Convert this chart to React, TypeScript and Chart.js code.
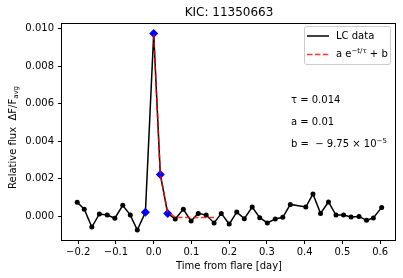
import React, { useEffect, useRef } from "react";
import { Chart, registerables } from "chart.js";

Chart.register(...registerables);

const lcTimes = [-0.2027, -0.184, -0.164, -0.144, -0.123, -0.103, -0.082, -0.062, -0.0435, -0.022, 0, 0.0175, 0.037, 0.057, 0.0785, 0.099, 0.118, 0.139, 0.16, 0.179, 0.2, 0.22, 0.24, 0.261, 0.281, 0.301, 0.322, 0.342, 0.362, 0.403, 0.422, 0.442, 0.463, 0.483, 0.503, 0.523, 0.544, 0.564, 0.582, 0.604];
const lcFlux = [0.00073, 0.00036, -0.00059, 0.00011, 0.00005, -0.00012, 0.00057, 0.00005, -0.00075, 0.0002, 0.00974, 0.00222, 0.00014, -0.00016, 0.00036, -0.00027, 0.00014, 0.00005, -0.00037, 0.00014, -0.00043, 0.00021, -0.00014, 0.00048, -0.00009, -0.00037, -0.00016, -0.00007, 0.00062, 0.00048, 0.00117, 0.00014, 0.00075, 0.00005, 0.00005, -0.00005, -0.00002, -0.00023, -0.0001, 0.00046];
const flareTimes = [-0.022, 0, 0.0175, 0.037];
const flareFlux = [0.0002, 0.00974, 0.00222, 0.00014];
const fitTimes = [0, 0.0175, 0.037, 0.057, 0.0785, 0.099, 0.118, 0.139, 0.16];
const fitFlux = [0.0097, 0.0022, 0.00022, -0.00006, -0.00008, -0.00008, -0.00008, -0.00008, -0.00008];
const xTicks = [-0.2, -0.1, 0, 0.1, 0.2, 0.3, 0.4, 0.5, 0.6];
const yTicks = [0, 0.002, 0.004, 0.006, 0.008, 0.01];
const titleText = "KIC: 11350663";
const xLabel = "Time from flare [day]";

const FONT = "'DejaVu Sans', sans-serif";

type Run = { t: string; s: number; dy: number };

function runsWidth(ctx: CanvasRenderingContext2D, runs: Run[]) {
  let w = 0;
  for (const r of runs) {
    ctx.font = `${r.s}px ${FONT}`;
    w += ctx.measureText(r.t).width;
  }
  return w;
}

function drawRuns(ctx: CanvasRenderingContext2D, runs: Run[], x: number, y: number) {
  let cx = x;
  ctx.textBaseline = "middle";
  ctx.textAlign = "left";
  for (const r of runs) {
    ctx.font = `${r.s}px ${FONT}`;
    ctx.fillText(r.t, cx, y + r.dy);
    cx += ctx.measureText(r.t).width;
  }
}

const overlayPlugin = {
  id: "overlay",
  afterDraw(chart: any) {
    const ctx: CanvasRenderingContext2D = chart.ctx;
    const a = chart.chartArea;
    ctx.save();
    // spines
    ctx.strokeStyle = "#000";
    ctx.lineWidth = 1;
    ctx.strokeRect(Math.round(a.left) - 0.5, Math.round(a.top) + 0.5, Math.round(a.right - a.left), Math.round(a.bottom - a.top));
    ctx.fillStyle = "#000";
    // title
    ctx.font = `12px ${FONT}`;
    ctx.textAlign = "center";
    ctx.textBaseline = "middle";
    ctx.fillText(titleText, (a.left + a.right) / 2, 12.5);
    // x label
    ctx.font = `10px ${FONT}`;
    ctx.fillText(xLabel, (a.left + a.right) / 2, 266);
    // y label
    const yRuns: Run[] = [
      { t: "Relative flux  \u0394F/F", s: 10, dy: 0 },
      { t: "avg", s: 7, dy: 2.5 },
    ];
    ctx.save();
    ctx.translate(13.5, (a.top + a.bottom) / 2 + 6);
    ctx.rotate(-Math.PI / 2);
    const yw = runsWidth(ctx, yRuns);
    drawRuns(ctx, yRuns, -yw / 2, 0);
    ctx.restore();
    // legend
    const lx = 304.5, ly = 26.5, lw = 86, lh = 38;
    ctx.fillStyle = "rgba(255,255,255,0.8)";
    ctx.strokeStyle = "#cccccc";
    ctx.lineWidth = 1;
    ctx.beginPath();
    (ctx as any).roundRect(lx, ly, lw, lh, 2);
    ctx.fill();
    ctx.stroke();
    ctx.lineWidth = 1.5;
    ctx.strokeStyle = "#000";
    ctx.beginPath();
    ctx.moveTo(307, 36);
    ctx.lineTo(329, 36);
    ctx.stroke();
    ctx.strokeStyle = "rgba(255,0,0,0.8)";
    ctx.setLineDash([5.5, 2.4]);
    ctx.beginPath();
    ctx.moveTo(307, 54.5);
    ctx.lineTo(329, 54.5);
    ctx.stroke();
    ctx.setLineDash([]);
    ctx.fillStyle = "#000";
    drawRuns(ctx, [{ t: "LC data", s: 10, dy: 0 }], 336, 36);
    drawRuns(ctx, [
      { t: "a e", s: 10, dy: 0 },
      { t: "\u2212t/\u03c4", s: 7, dy: -3.5 },
      { t: " + b", s: 10, dy: 0 },
    ], 336, 54.5);
    // annotations
    drawRuns(ctx, [{ t: "\u03c4 = 0.014", s: 10, dy: 0 }], 291, 100.5);
    drawRuns(ctx, [{ t: "a = 0.01", s: 10, dy: 0 }], 291, 122.5);
    drawRuns(ctx, [
      { t: "b =  \u2212 9.75 \u00d7 10", s: 10, dy: 0 },
      { t: "\u22125", s: 7, dy: -3.5 },
    ], 291, 144.5);
    ctx.restore();
  },
};

function fmtX(v: number) {
  const s = Math.abs(v).toFixed(1);
  return v < -1e-9 ? "\u2212" + s : s;
}

export default function App() {
  const ref = useRef<HTMLCanvasElement | null>(null);
  useEffect(() => {
    document.body.style.margin = "0";
    const canvas = ref.current!;
    const chart = new Chart(canvas, {
      type: "scatter",
      data: {
        datasets: [
          {
            label: "LC data",
            order: 3,
            data: lcTimes.map((t, i) => ({ x: t, y: lcFlux[i] })),
            showLine: true,
            borderColor: "#000",
            backgroundColor: "#000",
            borderWidth: 1.5,
            pointRadius: 2.5,
            pointBorderWidth: 0,
            pointStyle: "circle",
          },
          {
            label: "flare",
            order: 2,
            data: flareTimes.map((t, i) => ({ x: t, y: flareFlux[i] })),
            showLine: false,
            borderColor: "#0000ff",
            backgroundColor: "#0000ff",
            pointStyle: "rectRot",
            pointRadius: 4.5,
            pointBorderWidth: 0,
          },
          {
            label: "fit",
            order: 1,
            data: fitTimes.map((t, i) => ({ x: t, y: fitFlux[i] })),
            showLine: true,
            borderColor: "rgba(255,0,0,0.8)",
            borderWidth: 1.5,
            borderDash: [5.5, 2.4],
            pointRadius: 0,
          },
        ],
      },
      options: {
        responsive: false,
        animation: false,
        devicePixelRatio: 1,
        layout: { padding: { top: 23, right: 7, left: 0, bottom: 0 } },
        plugins: { legend: { display: false }, tooltip: { enabled: false }, title: { display: false } },
        scales: {
          x: {
            type: "linear",
            min: -0.243,
            max: 0.642,
            afterFit: (s: any) => { s.height = 38; },
            afterBuildTicks: (s: any) => { s.ticks = xTicks.map((v) => ({ value: v })); },
            border: { display: false },
            grid: { drawOnChartArea: false, drawTicks: true, tickLength: 4, color: "#000", tickColor: "#000" },
            ticks: { color: "#000", font: { family: FONT, size: 10 }, padding: 2, maxRotation: 0, autoSkip: false, callback: (v: any) => fmtX(Number(v)) },
          },
          y: {
            type: "linear",
            min: -0.00128,
            max: 0.0103,
            afterFit: (s: any) => { s.width = 62; },
            afterBuildTicks: (s: any) => { s.ticks = yTicks.map((v) => ({ value: v })); },
            border: { display: false },
            grid: { drawOnChartArea: false, drawTicks: true, tickLength: 4, color: "#000", tickColor: "#000" },
            ticks: { color: "#000", font: { family: FONT, size: 10 }, padding: 4, autoSkip: false, callback: (v: any) => Number(v).toFixed(3) },
          },
        },
      },
      plugins: [overlayPlugin],
    } as any);
    return () => chart.destroy();
  }, []);
  return (
    <div style={{ position: "absolute", left: 0, top: 0, width: 403, height: 278, background: "#fff" }}>
      <canvas ref={ref} width={403} height={278} style={{ width: 403, height: 278, display: "block" }} />
    </div>
  );
}
